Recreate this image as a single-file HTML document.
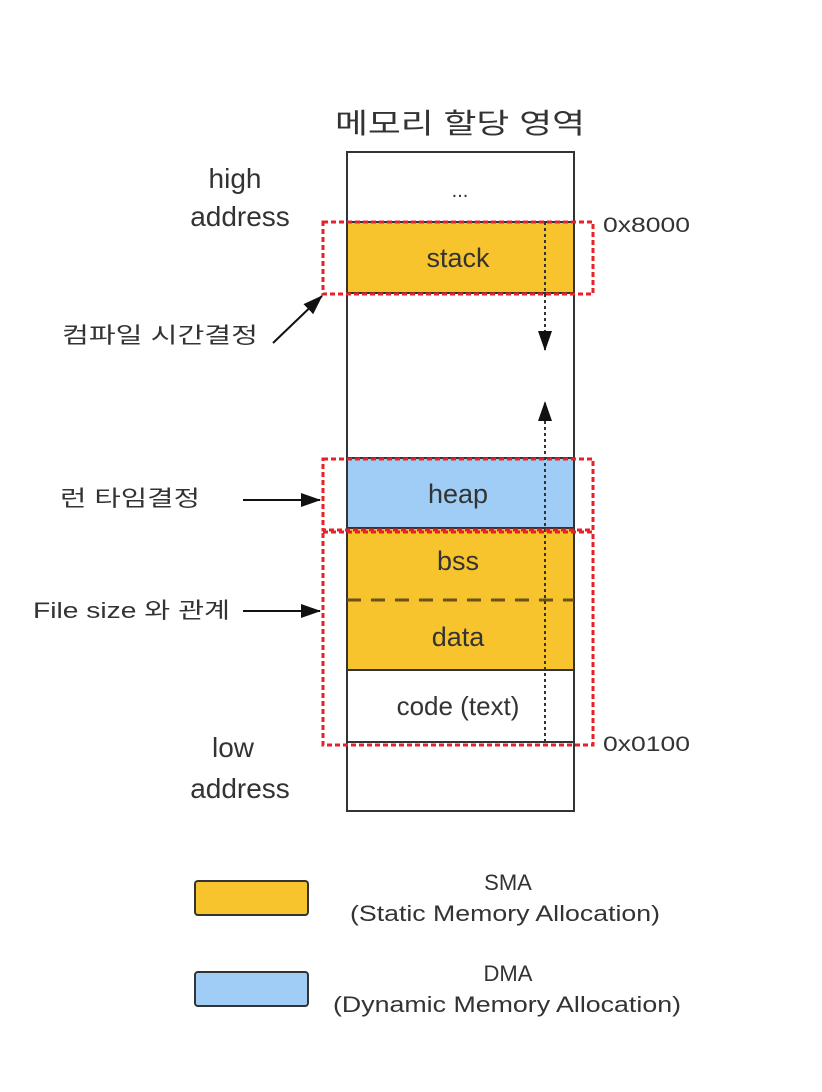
<!DOCTYPE html>
<html><head><meta charset="utf-8"><style>
html,body{margin:0;padding:0;background:#fff;}
svg{display:block;}
text{font-family:"Liberation Sans","Noto Sans CJK KR","NanumGothic",sans-serif;fill:#333;}
</style></head><body>
<svg width="822" height="1092" viewBox="0 0 822 1092" xmlns="http://www.w3.org/2000/svg">
<defs>
<marker id="ah2" markerWidth="20" markerHeight="14" refX="19" refY="7" orient="auto" markerUnits="userSpaceOnUse"><path d="M0,0 L20,7 L0,14 z" fill="#111"/></marker>
</defs>
<text x="335" y="133" font-size="28" fill="#555" textLength="250" lengthAdjust="spacingAndGlyphs">메모리 할당 영역</text>
<rect x="347" y="152" width="227" height="659" fill="#fff" stroke="#333" stroke-width="2"/>
<text x="460" y="197" font-size="20" text-anchor="middle" fill="#666">...</text>
<rect x="347" y="222" width="227" height="71" fill="#F8C42D" stroke="#333" stroke-width="2"/>
<text x="458" y="267" font-size="27" text-anchor="middle">stack</text>
<rect x="347" y="458" width="227" height="70" fill="#9FCDF6" stroke="#333" stroke-width="2"/>
<text x="458" y="503" font-size="27" text-anchor="middle" fill="#1f2f45">heap</text>
<rect x="347" y="528" width="227" height="142" fill="#F8C42D" stroke="#333" stroke-width="2"/>
<line x1="347" y1="600" x2="574" y2="600" stroke="#6a5218" stroke-width="3" stroke-dasharray="14,10"/>
<text x="458" y="570" font-size="27" text-anchor="middle" fill="#4a3a10">bss</text>
<text x="458" y="646" font-size="27" text-anchor="middle" fill="#4a3a10">data</text>
<rect x="347" y="670" width="227" height="72" fill="#fff" stroke="#333" stroke-width="2"/>
<text x="458" y="715" font-size="26" text-anchor="middle">code (text)</text>
<line x1="545" y1="222" x2="545" y2="350" stroke="#333" stroke-width="2" stroke-dasharray="3,3" marker-end="url(#ah2)"/>
<line x1="545" y1="742" x2="545" y2="402" stroke="#333" stroke-width="2" stroke-dasharray="3,3" marker-end="url(#ah2)"/>
<g fill="none" stroke="#e8202a" stroke-width="3" stroke-dasharray="5,3">
<rect x="323" y="222" width="270" height="72"/>
<rect x="323" y="459" width="270" height="71"/>
<rect x="323" y="532" width="270" height="213"/>
</g>
<text x="603" y="232" font-size="21" textLength="87" lengthAdjust="spacingAndGlyphs">0x8000</text>
<text x="603" y="751" font-size="21" textLength="87" lengthAdjust="spacingAndGlyphs">0x0100</text>
<text x="235" y="188" font-size="28" text-anchor="middle" fill="#444">high</text>
<text x="240" y="226" font-size="28" text-anchor="middle" fill="#444">address</text>
<text x="233" y="757" font-size="28" text-anchor="middle" fill="#444">low</text>
<text x="240" y="798" font-size="28" text-anchor="middle" fill="#444">address</text>
<text x="62" y="343" font-size="22" fill="#444" textLength="196" lengthAdjust="spacingAndGlyphs">컴파일 시간결정</text>
<line x1="273" y1="343" x2="322" y2="296" stroke="#111" stroke-width="2" marker-end="url(#ah2)"/>
<text x="60" y="506" font-size="22" fill="#444" textLength="140" lengthAdjust="spacingAndGlyphs">런 타임결정</text>
<line x1="243" y1="500" x2="320" y2="500" stroke="#111" stroke-width="2" marker-end="url(#ah2)"/>
<text x="33" y="618" font-size="22" fill="#444" textLength="197" lengthAdjust="spacingAndGlyphs">File size 와 관계</text>
<line x1="243" y1="611" x2="320" y2="611" stroke="#111" stroke-width="2" marker-end="url(#ah2)"/>
<rect x="195" y="881" width="113" height="34" rx="3" fill="#F8C42D" stroke="#333" stroke-width="2"/>
<rect x="195" y="972" width="113" height="34" rx="3" fill="#9FCDF6" stroke="#333" stroke-width="2"/>
<text x="508" y="890" font-size="22" text-anchor="middle">SMA</text>
<text x="350" y="921" font-size="22" textLength="310" lengthAdjust="spacingAndGlyphs">(Static Memory Allocation)</text>
<text x="508" y="981" font-size="22" text-anchor="middle">DMA</text>
<text x="333" y="1012" font-size="22" textLength="348" lengthAdjust="spacingAndGlyphs">(Dynamic Memory Allocation)</text>
</svg>
</body></html>
